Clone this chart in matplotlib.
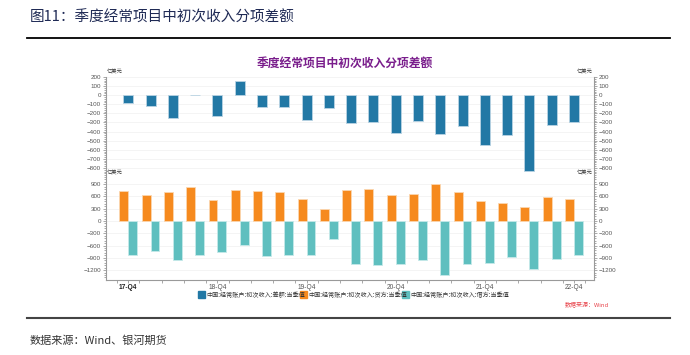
import matplotlib
matplotlib.use("Agg")
import matplotlib.pyplot as plt
from matplotlib.ticker import MultipleLocator
from matplotlib.patches import Rectangle
import numpy as np

plt.rcParams['font.family'] = ['Noto Sans CJK SC', 'DejaVu Sans']

quarters = ["17-Q4", "18-Q1", "18-Q2", "18-Q3", "18-Q4", "19-Q1", "19-Q2", "19-Q3", "19-Q4",
            "20-Q1", "20-Q2", "20-Q3", "20-Q4", "21-Q1", "21-Q2", "21-Q3", "21-Q4",
            "22-Q1", "22-Q2", "22-Q3", "22-Q4"]
net = [-85, -115, -255, 5, -230, 160, -135, -135, -270, -145, -305, -300,
       -415, -285, -425, -340, -550, -440, -835, -330, -300]
credit = [740, 630, 700, 830, 520, 760, 730, 710, 540, 290, 760, 770,
          640, 670, 900, 720, 480, 430, 330, 590, 540]
debit = [-820, -740, -950, -820, -750, -590, -860, -840, -820, -440, -1060, -1070,
         -1050, -950, -1320, -1050, -1030, -880, -1170, -920, -840]
shown_labels = ["17-Q4", "18-Q4", "19-Q4", "20-Q4", "21-Q4", "22-Q4"]
legend_labels = ["中国:经常账户:初次收入:差额:当季值",
                 "中国:经常账户:初次收入:贷方:当季值",
                 "中国:经常账户:初次收入:借方:当季值"]

c_net = "#2278a5"
c_cr = "#f68a1e"
c_db = "#5fbfbf"
grid_c = "#f2f2f2"
spine_c = "#9a9a9a"
num_font = "Liberation Sans"

fig = plt.figure(figsize=(6.9, 3.55), dpi=100)
W, H = 690, 355

def fx(px):
    return px / W

def fy(py):
    return 1 - py / H

# header
fig.text(fx(30), fy(18), "图11：季度经常项目中初次收入分项差额", fontsize=10.5,
         color="#1f2a55", va="center", ha="left")
fig.add_artist(plt.Line2D([fx(27), fx(670)], [fy(38), fy(38)], color="black", lw=1.3))
fig.text(0.5, fy(63), "季度经常项目中初次收入分项差额", fontsize=8.5, color="#7a1e8c",
         fontweight="bold", ha="center", va="center")

x = np.arange(len(quarters))
left, right = 106, 594
xl = (-1.0, 20.9)

# top axes
ax1 = fig.add_axes([fx(left), fy(177), fx(right - left), fy(77) - fy(177)])
ax1.bar(x, net, width=0.45, color=c_net, edgecolor="#b9d3e3", linewidth=0.6, zorder=3)
ax1.set_ylim(-900, 200)
ax1.set_xlim(*xl)
ax1.set_yticks(range(-800, 201, 100))
ax1.yaxis.set_minor_locator(MultipleLocator(20))
ax1.set_xticks([])

# bottom axes
ax2 = fig.add_axes([fx(left), fy(279.5), fx(right - left), fy(178) - fy(279.5)])
w = 0.4
ax2.bar(x - 0.2, credit, width=w, color=c_cr, edgecolor="#fbd7b0", linewidth=0.6, zorder=3)
ax2.bar(x + 0.2, debit, width=w, color=c_db, edgecolor="#c5e9e9", linewidth=0.6, zorder=3)
ax2.set_ylim(-1430, 1050)
ax2.set_xlim(*xl)
ax2.set_yticks(range(-1200, 901, 300))
ax2.yaxis.set_minor_locator(MultipleLocator(60))
pos = [quarters.index(q) for q in shown_labels]
ax2.set_xticks(pos)
ax2.set_xticklabels(shown_labels)
ax2.set_xticks(np.arange(-0.5, 21, 1), minor=True)

for ax in (ax1, ax2):
    ax.set_facecolor("white")
    ax.spines["top"].set_visible(False)
    for s in ("left", "right", "bottom"):
        ax.spines[s].set_color(spine_c)
        ax.spines[s].set_linewidth(0.8)
    ax.grid(axis="y", color=grid_c, lw=0.6, zorder=0)
    ax.tick_params(axis="y", which="both", left=True, right=True, labelleft=True,
                   labelright=True, labelsize=4.5, colors=spine_c, labelcolor="#555555",
                   length=2.5, width=0.6, pad=1)
    ax.tick_params(axis="y", which="minor", length=1.3)
    ax.tick_params(axis="x", which="both", labelsize=4.8, colors=spine_c,
                   labelcolor="#555555", length=2.0, width=0.6, pad=1)
    for lab in ax.get_yticklabels() + ax.get_xticklabels():
        lab.set_fontfamily(num_font)

ax1.spines["bottom"].set_visible(False)
ax2.get_xticklabels()[0].set_fontweight("bold")
ax2.get_xticklabels()[0].set_color("#222222")

# unit labels
for ytop in (77, 178):
    fig.text(fx(107), fy(ytop - 2), "亿美元", fontsize=3.8, color="#333333", ha="left", va="bottom")
    fig.text(fx(593), fy(ytop - 2), "亿美元", fontsize=3.8, color="#333333", ha="right", va="bottom")

# legend
lx = [198, 300, 402]
cols = [c_net, c_cr, c_db]
for px, col, lab in zip(lx, cols, legend_labels):
    fig.add_artist(Rectangle((fx(px), fy(298)), fx(7), fy(291) - fy(298), color=col,
                             transform=fig.transFigure))
    fig.text(fx(px + 8.5), fy(294.5), lab, fontsize=4.4, color="#333333", ha="left", va="center")

fig.text(fx(565), fy(305), "数据来源：Wind", fontsize=4.3, color="#e8434a", style="italic",
         ha="left", va="center")

fig.add_artist(plt.Line2D([fx(27), fx(670)], [fy(318), fy(318)], color="#444444", lw=1.5))
fig.text(fx(30), fy(341), "数据来源：Wind、银河期货", fontsize=8, color="#333333", ha="left", va="center")

fig.savefig("out.png", dpi=100)
